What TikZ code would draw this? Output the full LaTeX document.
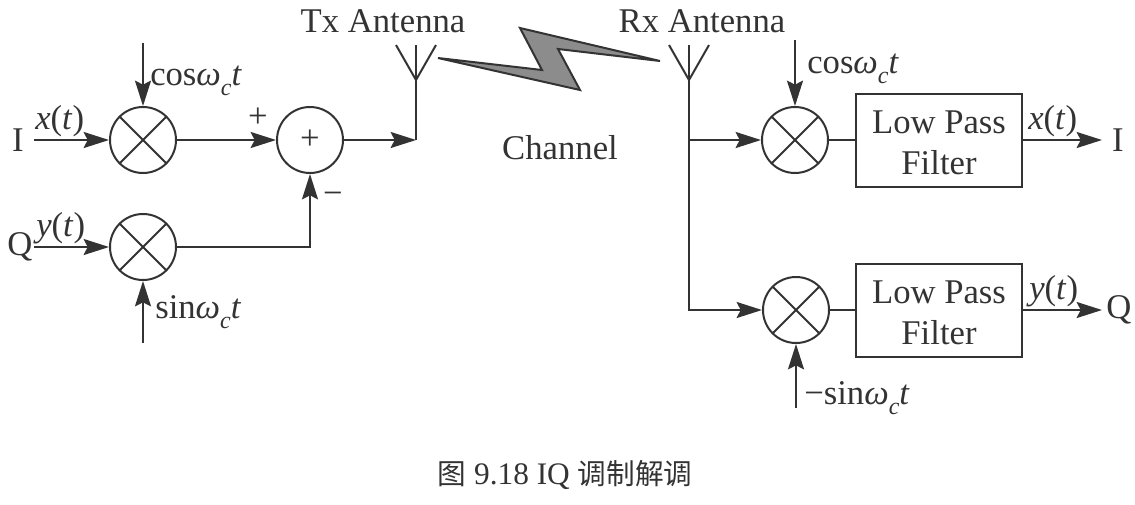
\documentclass[tikz,border=0pt]{standalone}
\usepackage{fontspec}
\setmainfont{Liberation Serif}
\newfontfamily\cjkfont{Noto Sans CJK SC}
\usepackage{xcolor}
\definecolor{inkline}{HTML}{333333}
\definecolor{boltfill}{HTML}{8C8C8C}
\usetikzlibrary{arrows.meta, positioning}
\newcommand{\carrier}[1]{#1\textit{ω}\raisebox{-0.6ex}{\fontsize{18}{18}\selectfont\textit{c}}\textit{t}}

\begin{document}
\begin{tikzpicture}[
			x=0.75pt, y=-0.75pt,
			every node/.style={text=inkline, font=\fontsize{26}{31}\selectfont},
			mixer/.style={
				circle,
				draw=inkline,
				line width=1.5pt,
				inner sep=0pt,
				minimum size=49.5pt,
				path picture={
					\draw[inkline, line width=1.5pt] (path picture bounding box.north west) -- (path picture bounding box.south east);
					\draw[inkline, line width=1.5pt] (path picture bounding box.north east) -- (path picture bounding box.south west);
				},
			},
			adder/.style={
				circle,
				draw=inkline,
				line width=1.5pt,
				inner sep=0pt,
				minimum size=49.5pt,
			},
			filterbox/.style={
				rectangle,
				draw=inkline,
				line width=1.5pt,
				minimum width=124.5pt,
				minimum height=69.75pt,
				inner sep=0pt,
				label={[align=center, yshift=-2pt]center:Low Pass\\Filter},
			},
			arrow/.style={-{Stealth[length=19pt, width=12pt, inset=3pt]}, line width=1.5pt, color=inkline},
			wire/.style={line width=1.5pt, color=inkline},
			]
			\useasboundingbox (0,0) rectangle (1135,504);
			
			% transmit side
			\node[mixer] (mixi) at (143,140) {};
			\node[mixer] (mixq) at (143,247) {};
			\node[adder] (sum) at (310,140) {+};
			\node (inI) at (18,140) {I};
			\node (inQ) at (20,247) {Q};
			\coordinate (inIend) at (34,140);
			\coordinate (inQend) at (34,247);
			\coordinate (cosTx) at (143,43);
			\coordinate (sinTx) at (143,343);
			\node[anchor=west, inner sep=0pt] (cosTxlab) at (150,81) {\carrier{cos}};
			\node[anchor=west, inner sep=0pt] (sinTxlab) at (155,312) {\carrier{sin}};
			\node[anchor=west, inner sep=0pt] (xTx) at (35,121) {\textit{x}(\textit{t})};
			\node[anchor=west, inner sep=0pt] (yTx) at (36,228) {\textit{y}(\textit{t})};
			\node (plus) at (258,118) {+};
			\node (minus) at (333,198) {−};
			
			\draw[arrow] (inIend) -- (mixi);
			\draw[arrow] (inQend) -- (mixq);
			\draw[arrow] (cosTx) -- (mixi);
			\draw[arrow] (sinTx) -- (mixq);
			\draw[arrow] (mixi) -- (sum);
			\draw[arrow] (mixq) -| (sum);
			
			% antennas and channel
			\coordinate (txtop) at (416,45);
			\coordinate (txfork) at (416,80);
			\coordinate (txfoot) at (416,140);
			\coordinate (rxtop) at (689,45);
			\coordinate (rxfork) at (689,80);
			\coordinate (rxtap) at (689,140);
			\node (txlab) at (383,21) {Tx Antenna};
			\node (rxlab) at (702,21) {Rx Antenna};
			\node (chan) at (560,148) {Channel};
			
			\draw[arrow] (sum) -- (txfoot);
			\draw[wire] (txtop) -- (txfoot);
			\draw[wire] (396,45) -- (txfork) -- (436,45);
			\draw[wire] (669,45) -- (rxfork) -- (709,45);
			\fill[boltfill, draw=inkline, line width=1.5pt, line join=miter]
			(438,58) -- (542,70) -- (520,28) -- (660,61) -- (558,49) -- (580,90) -- cycle;
			
			% receive side
			\node[mixer] (demi) at (795,140) {};
			\node[mixer] (demq) at (796,310) {};
			\node[filterbox] (lpfi) at (939,140) {};
			\node[filterbox] (lpfq) at (939,310) {};
			\node (outI) at (1118,140) {I};
			\node (outQ) at (1119,310) {Q};
			\coordinate (outIend) at (1102,140);
			\coordinate (outQend) at (1102,310);
			\coordinate (cosRx) at (795,40);
			\coordinate (sinRx) at (796,408);
			\node[anchor=west, inner sep=0pt] (cosRxlab) at (807,69) {\carrier{cos}};
			\node[anchor=west, inner sep=0pt] (sinRxlab) at (804,398) {\carrier{−sin}};
			\node[anchor=west, inner sep=0pt] (xRx) at (1028,121) {\textit{x}(\textit{t})};
			\node[anchor=west, inner sep=0pt] (yRx) at (1029,291) {\textit{y}(\textit{t})};
			
			\draw[wire] (rxtop) -- (rxtap);
			\draw[arrow] (rxtap) -- (demi);
			\draw[arrow] (rxtap) |- (demq);
			\draw[arrow] (cosRx) -- (demi);
			\draw[arrow] (sinRx) -- (demq);
			\draw[wire] (demi) -- (lpfi);
			\draw[wire] (demq) -- (lpfq);
			\draw[arrow] (lpfi) -- (outIend);
			\draw[arrow] (lpfq) -- (outQend);
			
			\node[font=\fontsize{23.5}{28}\selectfont] (caption) at (565,475) {{\cjkfont\fontsize{21.5}{28}\selectfont 图} 9.18 IQ {\cjkfont\fontsize{21.5}{28}\selectfont 调制解调}};
		\end{tikzpicture}
\end{document}
